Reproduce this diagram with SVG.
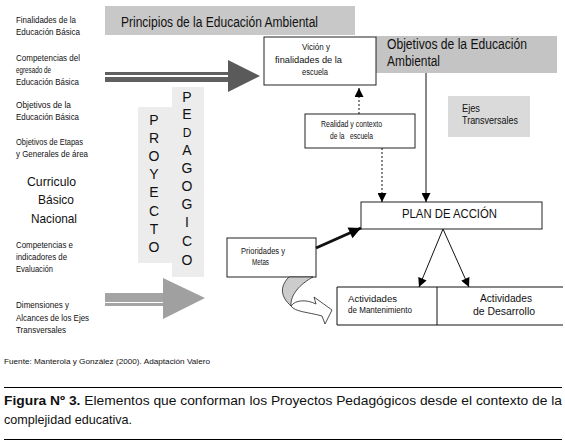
<svg xmlns="http://www.w3.org/2000/svg" width="565" height="442" viewBox="0 0 565 442">
<defs>
<style>
text{font-family:"Liberation Sans",Arial,sans-serif;fill:#111}
.s{font-size:9px}
.xs{font-size:8.5px}
.m{font-size:10px}
.l{font-size:14px}
.box{fill:#fff;stroke:#222;stroke-width:1}
.con{stroke:#111;stroke-width:1;fill:none}
.dash{stroke-dasharray:2,2}
.col{font-size:14px;text-anchor:middle}
</style>
<marker id="ah" viewBox="0 0 10 10" refX="10" refY="5" markerWidth="10" markerHeight="9" markerUnits="userSpaceOnUse" orient="auto"><path d="M0,0 L10,5 L0,10 Z" fill="#000"/></marker>
<marker id="ahb" viewBox="0 0 10 10" refX="10" refY="5" markerWidth="14" markerHeight="12" markerUnits="userSpaceOnUse" orient="auto"><path d="M0,0 L10,5 L0,10 Z" fill="#000"/></marker>
</defs>
<rect width="565" height="442" fill="#fff"/>

<g id="left-list">
<text class="s" x="16" y="23" textLength="60" lengthAdjust="spacingAndGlyphs">Finalidades de la</text>
<text class="s" x="16" y="35" textLength="64" lengthAdjust="spacingAndGlyphs">Educación Básica</text>
<text class="s" x="16" y="61" textLength="64" lengthAdjust="spacingAndGlyphs">Competencias del</text>
<text class="s" x="16" y="73" textLength="35" lengthAdjust="spacingAndGlyphs">egresado de</text>
<text class="s" x="16" y="85" textLength="63" lengthAdjust="spacingAndGlyphs">Educación Básica</text>
<text class="s" x="16" y="108" textLength="55" lengthAdjust="spacingAndGlyphs">Objetivos de la</text>
<text class="s" x="16" y="120" textLength="63" lengthAdjust="spacingAndGlyphs">Educación Básica</text>
<text class="s" x="16" y="145" textLength="67" lengthAdjust="spacingAndGlyphs">Objetivos de Etapas</text>
<text class="s" x="16" y="157" textLength="72" lengthAdjust="spacingAndGlyphs">y Generales de área</text>
<text style="font-size:13px" x="27" y="186" textLength="49" lengthAdjust="spacingAndGlyphs">Curriculo</text>
<text style="font-size:13px" x="38" y="204" textLength="36" lengthAdjust="spacingAndGlyphs">Básico</text>
<text style="font-size:13px" x="31" y="223" textLength="46" lengthAdjust="spacingAndGlyphs">Nacional</text>
<text class="s" x="16" y="248" textLength="57" lengthAdjust="spacingAndGlyphs">Competencias e</text>
<text class="s" x="16" y="260" textLength="51" lengthAdjust="spacingAndGlyphs">indicadores de</text>
<text class="s" x="16" y="272" textLength="37" lengthAdjust="spacingAndGlyphs">Evaluación</text>
<text class="s" x="16" y="308" textLength="53" lengthAdjust="spacingAndGlyphs">Dimensiones y</text>
<text class="s" x="16" y="321" textLength="73" lengthAdjust="spacingAndGlyphs">Alcances de los Ejes</text>
<text class="s" x="16" y="333" textLength="50" lengthAdjust="spacingAndGlyphs">Transversales</text>
</g>

<g id="principios">
<rect x="105" y="6" width="250" height="29" fill="#c8c8c8"/>
<text class="l" x="121" y="27" textLength="197" lengthAdjust="spacingAndGlyphs">Principios de la Educación Ambiental</text>
</g>

<g id="objetivos">
<rect x="376" y="36" width="181" height="37" fill="#c4c4c4"/>
<text class="l" x="387" y="49" textLength="140" lengthAdjust="spacingAndGlyphs">Objetivos de la Educación</text>
<text class="l" x="387" y="66" textLength="53" lengthAdjust="spacingAndGlyphs">Ambiental</text>
</g>

<g id="ejes">
<rect x="448" y="96" width="82" height="41" fill="#dadada"/>
<text class="m" x="462" y="112" textLength="18" lengthAdjust="spacingAndGlyphs">Ejes</text>
<text class="m" x="462" y="124" textLength="56" lengthAdjust="spacingAndGlyphs">Transversales</text>
</g>

<g id="proyecto">
<rect x="138" y="107" width="34" height="156" fill="#ececec"/>
<text class="col" x="154" y="125">P</text>
<text class="col" x="154" y="143">R</text>
<text class="col" x="154" y="161">O</text>
<text class="col" x="154" y="179">Y</text>
<text class="col" x="154" y="197">E</text>
<text class="col" x="154" y="216">C</text>
<text class="col" x="154" y="234">T</text>
<text class="col" x="154" y="252">O</text>
</g>

<g id="pedagogico">
<rect x="172" y="87" width="32" height="190" fill="#ececec"/>
<text class="col" x="187" y="102">P</text>
<text class="col" x="187" y="119">E</text>
<text class="col" x="187" y="137" style="font-size:12px">D</text>
<text class="col" x="187" y="155">A</text>
<text class="col" x="187" y="173">G</text>
<text class="col" x="187" y="191">O</text>
<text class="col" x="187" y="209">G</text>
<text class="col" x="187" y="227">I</text>
<text class="col" x="187" y="246">C</text>
<text class="col" x="187" y="265">O</text>
</g>

<g id="vision">
<rect class="box" x="264" y="37" width="112" height="48"/>
<text class="xs" x="302" y="50" textLength="28" lengthAdjust="spacingAndGlyphs">Vición y</text>
<text class="xs" x="275" y="63" textLength="67" lengthAdjust="spacingAndGlyphs">finalidades de la</text>
<text class="xs" x="302" y="75" textLength="26" lengthAdjust="spacingAndGlyphs">escuela</text>
</g>

<g id="realidad">
<rect class="box" x="305" y="114" width="110" height="34"/>
<text class="xs" x="321" y="127" textLength="61" lengthAdjust="spacingAndGlyphs">Realidad y contexto</text>
<text class="xs" x="330" y="139" textLength="43" lengthAdjust="spacingAndGlyphs" xml:space="preserve">de la   escuela</text>
</g>

<g id="plan">
<rect class="box" x="361" y="202" width="181" height="27"/>
<text style="font-size:12px" x="402" y="218" textLength="95" lengthAdjust="spacingAndGlyphs">PLAN DE ACCIÓN</text>
</g>

<g id="prioridades">
<rect class="box" x="227" y="238" width="89" height="39"/>
<text class="xs" x="241" y="254" textLength="44" lengthAdjust="spacingAndGlyphs">Prioridades y</text>
<text class="xs" x="252" y="265" textLength="17" lengthAdjust="spacingAndGlyphs">Metas</text>
</g>

<g id="mantenimiento">
<path d="M437,287 H337 V325 H437" class="con" stroke="#222"/>
<text class="xs" x="348" y="302" textLength="49" lengthAdjust="spacingAndGlyphs">Actividades</text>
<text class="xs" x="348" y="313" textLength="64" lengthAdjust="spacingAndGlyphs">de Mantenimiento</text>
</g>

<g id="desarrollo">
<path d="M437,287 H563 M437,325 H563 M437,287 V325" class="con" stroke="#222"/>
<text class="m" x="480" y="302" textLength="52" lengthAdjust="spacingAndGlyphs">Actividades</text>
<text class="m" x="473" y="315" textLength="62" lengthAdjust="spacingAndGlyphs">de Desarrollo</text>
</g>

<g id="connectors">
<rect x="105" y="72" width="124" height="3" fill="#606060"/>
<rect x="105" y="77" width="124" height="5" fill="#606060"/>
<polygon points="228,60 260,76 228,92" fill="#5a5a5a"/>
<rect x="105" y="293" width="59" height="9" fill="#a4a4a4"/>
<rect x="105" y="303" width="59" height="3" fill="#a4a4a4"/>
<polygon points="163,278 205,298 163,319" fill="#a0a0a0"/>
<line class="con dash" x1="359" y1="114" x2="359" y2="88" marker-end="url(#ah)"/>
<line class="con dash" x1="382" y1="148" x2="382" y2="202" marker-end="url(#ah)"/>
<line class="con" x1="426" y1="73" x2="426" y2="202" marker-end="url(#ah)"/>
<line class="con" style="stroke-width:3" x1="316" y1="248" x2="361" y2="228" marker-end="url(#ahb)"/>
<line class="con" x1="443" y1="229" x2="419" y2="287" marker-end="url(#ah)"/>
<line class="con" x1="443" y1="229" x2="469" y2="287" marker-end="url(#ah)"/>
<path d="M289,277 L313,277 C300,284 290,295 291,306 C281,297 279,287 289,277 Z" fill="#cccccc" stroke="#222" stroke-width="0.8"/>
<path d="M291,306 C295,300 306,299 316,304 L314,297 L332,310 L325,324 L322,316 C308,312 295,312 291,306 Z" fill="#fff" stroke="#222" stroke-width="0.8"/>
</g>

<g id="caption">
<text style="font-size:7.5px" x="4" y="364" textLength="206" lengthAdjust="spacingAndGlyphs">Fuente: Manterola y González (2000). Adaptación Valero</text>
<line x1="4" y1="387.5" x2="562" y2="387.5" stroke="#000" stroke-width="1"/>
<text style="font-size:13px" x="4" y="405" textLength="558" lengthAdjust="spacingAndGlyphs"><tspan font-weight="bold">Figura Nº 3.</tspan> Elementos que conforman los Proyectos Pedagógicos desde el contexto de la</text>
<text style="font-size:13px" x="4" y="424" textLength="128" lengthAdjust="spacingAndGlyphs">complejidad educativa.</text>
<line x1="4" y1="439.5" x2="562" y2="439.5" stroke="#000" stroke-width="1"/>
</g>
</svg>
